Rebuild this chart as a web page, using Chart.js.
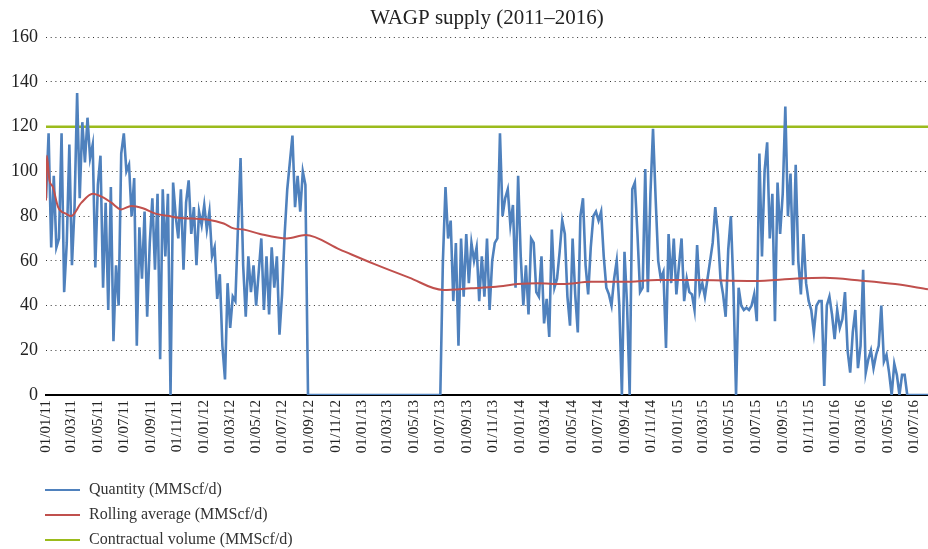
<!DOCTYPE html>
<html>
<head>
<meta charset="utf-8">
<script src="https://cdn.jsdelivr.net/npm/chart.js@4.4.1/dist/chart.umd.min.js"></script>
<style>
  body { margin: 0; background: #fff; }
  #wrap { width: 928px; height: 549px; }
</style>
</head>
<body>
<div id="wrap"><canvas id="myChart" width="928" height="549"></canvas></div>
<script>
// Datos (muestra cada 6 días desde 01/01/11)
const stepDays = 6;
const quantity = [
  88,117,66,98,66,70,117,46,68,112,
  58,84,135,88,122,104,124,106,112,57,
  94,107,48,86,38,93,24,58,40,108,
  117,100,103,80,97,22,75,52,82,35,
  68,88,56,90,16,92,62,90,0,95,
  80,70,92,56,86,96,72,84,58,82,
  76,85,74,82,62,66,43,54,22,7,
  50,30,44,42,75,106,58,35,62,46,
  58,40,55,70,38,62,36,66,48,62,
  27,45,72,92,104,116,84,98,82,100,
  94,
  // parada (ago 2012 - jul 2013)
  0,0,0,0,0,0,0,0,0,0,
  0,0,0,0,0,0,0,0,0,0,
  0,0,0,0,0,0,0,0,0,0,
  0,0,0,0,0,0,0,0,0,0,
  0,0,0,0,0,0,0,0,0,0,
  0,0,
  60,93,70,78,42,68,22,
  70,44,72,50,68,60,66,42,62,44,
  70,38,60,68,70,117,80,88,92,76,
  85,48,98,62,40,58,36,70,68,46,
  44,62,32,43,26,74,48,52,64,78,
  72,44,31,70,45,28,80,88,58,45,
  66,80,82,78,82,62,48,45,40,52,
  60,40,0,64,40,0,92,95,72,46,
  48,101,46,90,119,88,60,52,55,21,
  72,50,70,45,58,70,42,52,46,45,
  38,67,46,50,44,52,60,68,84,72,
  52,45,35,65,80,48,0,48,40,38,
  39,38,40,45,33,108,62,100,113,70,
  90,33,95,72,90,129,80,99,58,103,
  60,45,72,50,42,38,28,40,42,42,
  4,40,44,36,25,38,30,34,46,20,
  10,28,38,12,22,56,10,16,20,12,
  18,22,40,15,18,10,0,14,9,0,
  9,9,0,0,0,0,0,0,0,0,0
];

// Media móvil (día desde 01/01/11, valor)
const rollDays = [0,2,8,16,28,47,58,82,108,135,151,174,197,224,255,285,305,372,411,434,457,495,557,600,680,760,840,918,983,1041,1091,1137,1195,1260,1337,1414,1495,1637,1737,1800,1887,1964,2040];
const rollValues = [87,107,96,93,84,81,80,86,90,88,86,83,84.5,83.5,81,80,79.3,78.5,76.7,74.5,74,72,70,71.5,65,58.5,52.5,47,47.7,48.4,49.6,50,49.6,50.6,50.6,51.4,51.4,51,52.1,52.4,51.1,49.6,47.3];

const contractDays = [0, 2040];
const contractValues = [120, 120];

const tickLabels = [
  '01/01/11','01/03/11','01/05/11','01/07/11','01/09/11','01/11/11',
  '01/01/12','01/03/12','01/05/12','01/07/12','01/09/12','01/11/12',
  '01/01/13','01/03/13','01/05/13','01/07/13','01/09/13','01/11/13',
  '01/01/14','01/03/14','01/05/14','01/07/14','01/09/14','01/11/14',
  '01/01/15','01/03/15','01/05/15','01/07/15','01/09/15','01/11/15',
  '01/01/16','01/03/16','01/05/16','01/07/16'
];

const SERIF = "'Liberation Serif', 'DejaVu Serif', serif";

// Pasar 'dd/mm/yy' a días desde 01/01/11
function diaDe(label) {
  const p = label.split('/');
  const t = Date.UTC(2000 + Number(p[2]), Number(p[1]) - 1, Number(p[0]));
  return Math.round((t - Date.UTC(2011, 0, 1)) / 86400000);
}
const tickDays = tickLabels.map(diaDe);

// Leyenda vertical abajo a la izquierda
const leyendaPlugin = {
  id: 'leyendaVertical',
  afterDraw(chart) {
    const ctx = chart.ctx;
    ctx.save();
    chart.data.datasets.forEach((ds, i) => {
      const y = 490 + i * 25;
      ctx.strokeStyle = ds.borderColor;
      ctx.lineWidth = 2;
      ctx.beginPath();
      ctx.moveTo(45, y);
      ctx.lineTo(80, y);
      ctx.stroke();
      ctx.fillStyle = '#333';
      ctx.font = '16px ' + SERIF;
      ctx.textBaseline = 'middle';
      ctx.textAlign = 'left';
      ctx.fillText(ds.label, 89, y);
    });
    ctx.restore();
  }
};

const ctx = document.getElementById('myChart').getContext('2d');
new Chart(ctx, {
  type: 'line',
  data: {
    datasets: [
      {
        label: 'Quantity (MMScf/d)',
        data: quantity.map((v, i) => ({ x: i * stepDays, y: v })),
        borderColor: '#4f81bd',
        borderWidth: 2.6,
        pointRadius: 0,
        tension: 0,
        order: 1
      },
      {
        label: 'Rolling average (MMScf/d)',
        data: rollDays.map((d, i) => ({ x: d, y: rollValues[i] })),
        borderColor: '#c0504d',
        borderWidth: 2,
        pointRadius: 0,
        cubicInterpolationMode: 'monotone',
        order: 0
      },
      {
        label: 'Contractual volume (MMScf/d)',
        data: contractDays.map((d, i) => ({ x: d, y: contractValues[i] })),
        borderColor: '#9bbb1c',
        borderWidth: 2.5,
        pointRadius: 0,
        order: 2
      }
    ]
  },
  options: {
    responsive: false,
    animation: false,
    layout: { padding: 0 },
    plugins: {
      legend: { display: false },
      tooltip: { enabled: false },
      title: {
        display: true,
        text: 'WAGP supply (2011–2016)',
        fullSize: false,
        color: '#222',
        font: { family: SERIF, size: 21, weight: 'normal' },
        padding: { top: 6, bottom: 6 }
      }
    },
    scales: {
      x: {
        type: 'linear',
        min: 0,
        max: 2040,
        afterBuildTicks: (scale) => {
          scale.ticks = tickDays.map(d => ({ value: d }));
        },
        afterFit: (scale) => {
          scale.height = 154;
          scale.paddingLeft = 0;
          scale.paddingRight = 0;
        },
        ticks: {
          autoSkip: false,
          minRotation: 90,
          maxRotation: 90,
          padding: 5,
          color: '#222',
          font: { family: SERIF, size: 15 },
          callback: (value) => tickLabels[tickDays.indexOf(value)]
        },
        grid: { display: false, drawTicks: false },
        border: { display: true, color: '#000', width: 2 }
      },
      y: {
        min: 0,
        max: 160,
        afterFit: (scale) => { scale.width = 46; },
        ticks: {
          stepSize: 20,
          padding: 8,
          color: '#222',
          font: { family: SERIF, size: 18 }
        },
        grid: {
          drawTicks: false,
          lineWidth: 1,
          color: (c) => c.tick && c.tick.value === 0 ? 'rgba(0,0,0,0)' : '#333'
        },
        border: { display: false, dash: [1, 3.7] }
      }
    }
  },
  plugins: [leyendaPlugin]
});
</script>
</body>
</html>
